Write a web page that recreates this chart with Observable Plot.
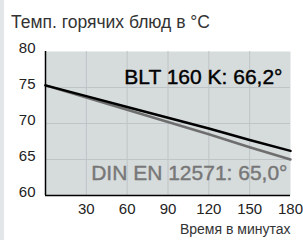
<!DOCTYPE html>
<html><head><meta charset="utf-8">
<script src="https://cdn.jsdelivr.net/npm/d3@7"></script>
<script src="https://cdn.jsdelivr.net/npm/@observablehq/plot@0.6"></script>
<style>
html,body{margin:0;padding:0;background:#fff;}
#wrap{width:299px;height:240px;border-left:4px solid #e3e6e8;font-family:"Liberation Sans",Arial,sans-serif;}
#title{height:36px;box-sizing:border-box;padding:13px 0 0 7px;font-size:17.5px;color:#333;line-height:19px;white-space:nowrap;}
svg{display:block;}
</style></head><body>
<div id="wrap"><div id="title">Темп. горячих блюд в °C</div><div id="chart"></div></div>
<script>
const minutes = [0, 30, 60, 90, 120, 150, 180];
const blt = [75.3, 73.8, 72.3, 70.8, 69.3, 67.7, 66.2];
const din = [75.3, 73.6, 71.9, 70.2, 68.5, 66.7, 65.0];
const xTicks = [30, 60, 90, 120, 150, 180];
const yTicks = [60, 65, 70, 75, 80];
const bltLabel = "BLT 160 K: 66,2°";
const dinLabel = "DIN EN 12571: 65,0°";
const xLabel = "Время в минутах";

const bltData = minutes.map((m, i) => ({m, v: blt[i]}));
const dinData = minutes.map((m, i) => ({m, v: din[i]}));

const chart = Plot.plot({
  width: 299, height: 204,
  marginLeft: 41, marginRight: 13, marginTop: 15, marginBottom: 45,
  style: {fontFamily: '"Liberation Sans", Arial, sans-serif', fontSize: "15px", color: "#222", background: "transparent"},
  x: {domain: [0, 180], label: null},
  y: {domain: [60, 80], label: null},
  marks: [
    Plot.frame({fill: "#d6dbdc", stroke: null}),
    Plot.gridX(xTicks.filter(t => t < 180), {stroke: "#bfc4c6", strokeOpacity: 1, strokeWidth: 1}),
    Plot.gridY(yTicks.filter(t => t > 60 && t < 80), {stroke: "#bfc4c6", strokeOpacity: 1, strokeWidth: 1}),
    Plot.line(dinData, {x: "m", y: "v", stroke: "#6e6e6e", strokeWidth: 2.5}),
    Plot.line(bltData, {x: "m", y: "v", stroke: "#000", strokeWidth: 2.5}),
    Plot.ruleX([0], {stroke: "#000", strokeWidth: 1.5}),
    Plot.ruleY([60], {stroke: "#000", strokeWidth: 1.5}),
    Plot.axisX({ticks: xTicks, tickSize: 0, tickPadding: 8, label: null, fontSize: 15}),
    Plot.axisY({ticks: yTicks, tickSize: 0, tickPadding: 10, dy: -3, label: null, fontSize: 15}),
    Plot.text([bltLabel], {frameAnchor: "top-right", lineAnchor: "middle", text: d => d, dx: -8, dy: 26, fontSize: 21, fill: "#000", stroke: "#000", strokeWidth: 0.4}),
    Plot.text([dinLabel], {frameAnchor: "bottom-right", lineAnchor: "middle", text: d => d, dx: -3, dy: -22, fontSize: 21, fill: "#777", stroke: "#777", strokeWidth: 0.4}),
    Plot.text([xLabel], {frameAnchor: "bottom-right", lineAnchor: "middle", text: d => d, dy: 34, fontSize: 14, fill: "#333"})
  ]
});
document.getElementById("chart").appendChild(chart);
</script>
</body></html>
